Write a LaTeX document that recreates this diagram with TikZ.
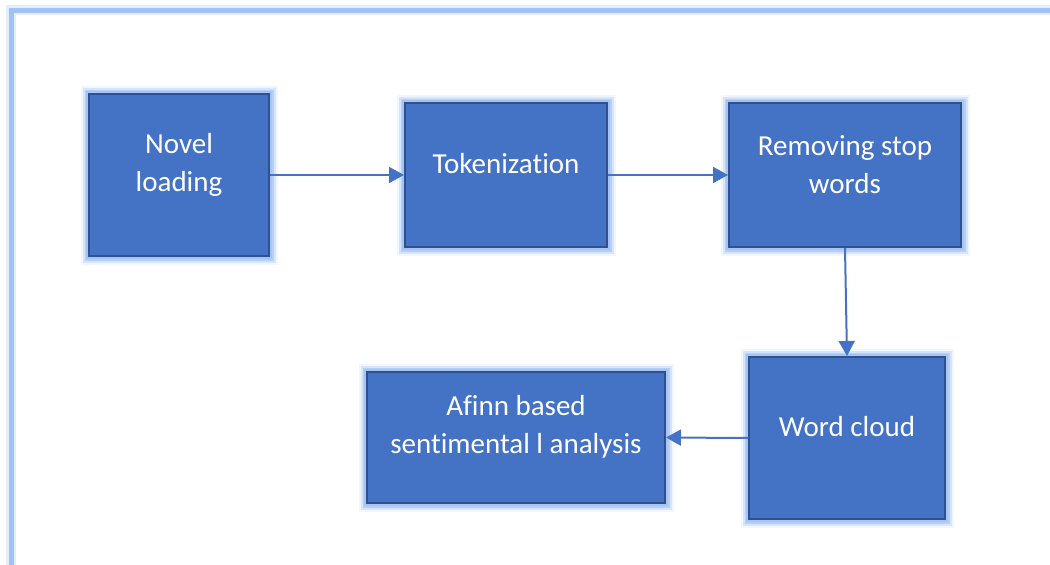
\documentclass[tikz,border=0pt]{standalone}
\usepackage{fontspec}
\setmainfont{Carlito}[Ligatures=NoCommon]
\usetikzlibrary{arrows.meta}
\definecolor{boxfill}{HTML}{4472C4}
\definecolor{boxline}{HTML}{2F528F}
\definecolor{glowc}{HTML}{A6C5F7}
\definecolor{framec}{HTML}{A2C1F4}
\tikzset{
  procbox/.style={rectangle, inner sep=0pt, fill=boxfill, draw=boxline, line width=2pt,
    preaction={draw=glowc, line width=17pt, opacity=0.15, rounded corners=4pt},
    preaction={draw=glowc, line width=13pt, opacity=0.35, rounded corners=3pt},
    preaction={draw=glowc, line width=9pt, opacity=0.7, rounded corners=2pt},
    preaction={draw=glowc, line width=6pt, opacity=1}},
  boxtext/.style={text=white, align=center, inner sep=0pt, font=\fontsize{29}{38}\selectfont},
  flow/.style={draw=boxfill, line width=2pt, -{Triangle[length=15pt,width=16pt]}},
}
\begin{document}
\begin{tikzpicture}[x=1pt,y=-1pt]
\useasboundingbox (0,0) rectangle (1050,565);
% outer frame
\draw[draw=glowc, line width=10pt, opacity=0.3] (11,570) -- (11,10) -- (1055,10);
\draw[draw=framec, line width=5pt] (11,570) -- (11,10) -- (1055,10);
% boxes
\node[procbox, minimum width=180pt, minimum height=162pt] (b1) at (179,175) {};
\node[procbox, minimum width=202pt, minimum height=144pt] (b2) at (506,175) {};
\node[procbox, minimum width=232pt, minimum height=144pt] (b3) at (845,175) {};
\node[procbox, minimum width=196pt, minimum height=162pt] (b4) at (847,438) {};
\node[procbox, minimum width=298pt, minimum height=131pt] (b5) at (516,437.5) {};
% texts
\node[boxtext] (t1) at (179,165) {Novel\\loading};
\node[boxtext] (t2) at (506,164) {Tokenization};
\node[boxtext] (t3) at (845,165) {Removing stop\\words};
\node[boxtext] (t4) at (847,427) {Word cloud};
\node[boxtext] (t5) at (516,427) {Afinn based\\sentimental l analysis};
% connectors
\draw[flow] (b1) -- (b2);
\draw[flow] (b2) -- (b3);
\draw[flow] (b3.south) -- (b4.north);
\draw[flow] (b4.west) -- (b5.east);
\end{tikzpicture}
\end{document}
